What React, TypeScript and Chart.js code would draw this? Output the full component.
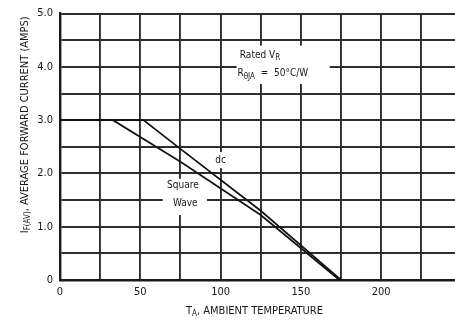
import React, { useEffect, useRef } from "react";
import { Chart, registerables } from "chart.js";

Chart.register(...registerables);

// Data
const DC_TEMPS = [0, 52, 75, 125, 175];
const DC_AMPS = [3.0, 3.0, 2.46, 1.3, 0];
const SQ_TEMPS = [0, 33, 75, 125, 174];
const SQ_AMPS = [3.0, 3.0, 2.22, 1.22, 0];

const X_TICK_LABELS = [0, 50, 100, 150, 200];
const Y_TICK_LABELS = [0, 1, 2, 3, 4, 5];

const FONT = '"Liberation Sans Narrow", "DejaVu Sans Condensed", "Liberation Sans", sans-serif';
const INK = "#161616";
const GRID = "#2e2e2e";

type Seg = { t: string; sub?: boolean };

function drawRich(ctx: CanvasRenderingContext2D, segs: Seg[], x: number, y: number, size: number, align: "left" | "center") {
  const widths = segs.map((s) => {
    ctx.font = `${s.sub ? Math.round(size * 0.75) : size}px ${FONT}`;
    return ctx.measureText(s.t).width;
  });
  const total = widths.reduce((a, b) => a + b, 0);
  let cx = align === "center" ? x - total / 2 : x;
  ctx.textBaseline = "middle";
  ctx.textAlign = "left";
  segs.forEach((s, i) => {
    ctx.font = `${s.sub ? Math.round(size * 0.75) : size}px ${FONT}`;
    ctx.fillText(s.t, cx, s.sub ? y + size * 0.3 : y);
    cx += widths[i];
  });
}

const textPlugin = {
  id: "textPlugin",
  beforeDatasetsDraw(chart: any) {
    const { ctx, scales } = chart;
    const xs = scales.x;
    const ys = scales.y;
    const box = (x0: number, x1: number, y0: number, y1: number) => {
      const px0 = xs.getPixelForValue(x0);
      const px1 = xs.getPixelForValue(x1);
      const py0 = ys.getPixelForValue(y0);
      const py1 = ys.getPixelForValue(y1);
      ctx.fillStyle = "#fff";
      ctx.fillRect(px0, py0, px1 - px0, py1 - py0);
    };
    ctx.save();
    box(110, 168, 4.4, 3.68);
    box(95.5, 104.5, 2.4, 2.1);
    box(64, 91.5, 1.9, 1.22);
    ctx.restore();
  },
  afterDraw(chart: any) {
    const { ctx, scales, chartArea } = chart;
    const xs = scales.x;
    const ys = scales.y;
    ctx.save();
    ctx.fillStyle = INK;
    drawRich(ctx, [{ t: "Rated V" }, { t: "R", sub: true }], xs.getPixelForValue(112), ys.getPixelForValue(4.22), 10, "left");
    drawRich(
      ctx,
      [{ t: "R" }, { t: "θJA", sub: true }, { t: "  =  50°C/W" }],
      xs.getPixelForValue(110.5),
      ys.getPixelForValue(3.87),
      10,
      "left"
    );
    drawRich(ctx, [{ t: "dc" }], xs.getPixelForValue(100), ys.getPixelForValue(2.24), 10, "center");
    drawRich(ctx, [{ t: "Square" }], xs.getPixelForValue(76.5), ys.getPixelForValue(1.77), 10, "center");
    drawRich(ctx, [{ t: "Wave" }], xs.getPixelForValue(78), ys.getPixelForValue(1.43), 10, "center");
    drawRich(
      ctx,
      [{ t: "T" }, { t: "A", sub: true }, { t: ", AMBIENT TEMPERATURE" }],
      (chartArea.left + chartArea.right) / 2 - 3,
      chartArea.bottom + 31,
      11,
      "center"
    );
    ctx.translate(25, (chartArea.top + chartArea.bottom) / 2 - 22);
    ctx.rotate(-Math.PI / 2);
    drawRich(
      ctx,
      [{ t: "I" }, { t: "F(AV)", sub: true }, { t: ", AVERAGE FORWARD CURRENT (AMPS)" }],
      0,
      0,
      11,
      "center"
    );
    ctx.restore();
  },
};

export default function App() {
  const ref = useRef<HTMLCanvasElement | null>(null);
  useEffect(() => {
    if (!ref.current) return;
    const chart = new Chart(ref.current, {
      type: "line",
      data: {
        datasets: [
          {
            label: "dc",
            data: DC_TEMPS.map((t, i) => ({ x: t, y: DC_AMPS[i] })),
            borderColor: "#111",
            borderWidth: 1.7,
            pointRadius: 0,
            tension: 0,
            fill: false,
          },
          {
            label: "Square Wave",
            data: SQ_TEMPS.map((t, i) => ({ x: t, y: SQ_AMPS[i] })),
            borderColor: "#111",
            borderWidth: 1.7,
            pointRadius: 0,
            tension: 0,
            fill: false,
          },
        ],
      },
      options: {
        animation: false,
        responsive: false,
        layout: { padding: { top: 11, right: 0, left: 0, bottom: 0 } },
        plugins: { legend: { display: false }, tooltip: { enabled: false } },
        scales: {
          x: {
            type: "linear",
            min: 0,
            max: 246,
            afterFit: (s: any) => {
              s.height = 41;
            },
            border: { display: true, color: "#1a1a1a", width: 2.4 },
            grid: { color: GRID, lineWidth: 1.9, drawTicks: false },
            ticks: {
              stepSize: 25,
              includeBounds: false,
              autoSkip: false,
              maxRotation: 0,
              padding: 6,
              color: INK,
              font: { family: FONT, size: 11 },
              callback: (v: any) => (X_TICK_LABELS.includes(Number(v)) ? String(v) : ""),
            },
          },
          y: {
            type: "linear",
            min: 0,
            max: 5,
            afterFit: (s: any) => {
              s.width = 60;
            },
            border: { display: true, color: "#1a1a1a", width: 2.4 },
            grid: { color: GRID, lineWidth: 1.9, drawTicks: false },
            ticks: {
              stepSize: 0.5,
              autoSkip: false,
              padding: 7,
              color: INK,
              font: { family: FONT, size: 11 },
              callback: (v: any) => {
                const n = Number(v);
                if (!Y_TICK_LABELS.includes(n)) return "";
                return n === 0 ? "0" : n.toFixed(1);
              },
            },
          },
        },
      },
      plugins: [textPlugin],
    } as any);
    return () => chart.destroy();
  }, []);
  return (
    <div style={{ position: "fixed", left: 0, top: 0, width: 455, height: 321, background: "#fff" }}>
      <canvas ref={ref} width={455} height={321} style={{ display: "block", width: 455, height: 321 }} />
    </div>
  );
}
